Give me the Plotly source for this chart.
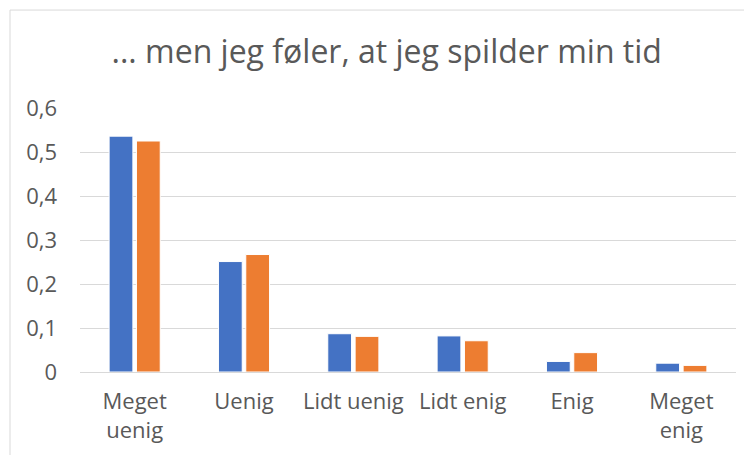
import plotly.graph_objects as go

categories = ["Meget<br>uenig", "Uenig", "Lidt uenig", "Lidt enig", "Enig", "Meget<br>enig"]
series_1 = [0.536, 0.251, 0.087, 0.082, 0.024, 0.020]
series_2 = [0.525, 0.267, 0.081, 0.071, 0.044, 0.015]

font_family = "Open Sans, sans-serif"
text_color = "#595959"

fig = go.Figure()
fig.add_trace(go.Bar(x=categories, y=series_1, name="Serie 1",
                     marker=dict(color="#4472C4", line=dict(color="#ffffff", width=1))))
fig.add_trace(go.Bar(x=categories, y=series_2, name="Serie 2",
                     marker=dict(color="#ED7D31", line=dict(color="#ffffff", width=1))))

fig.update_layout(
    width=744,
    height=447,
    separators=", ",
    barmode="group",
    bargap=0.5,
    bargroupgap=0.13,
    showlegend=False,
    plot_bgcolor="white",
    paper_bgcolor="white",
    margin=dict(l=72, r=16, t=100, b=83, autoexpand=False),
    font=dict(family=font_family, color=text_color, size=22),
    title=dict(
        text="... men jeg føler, at jeg spilder min tid",
        x=0.509,
        xanchor="center",
        y=0.902,
        yanchor="middle",
        font=dict(size=32, color=text_color, family=font_family),
    ),
    xaxis=dict(
        showgrid=False,
        showline=True,
        linecolor="#d9d9d9",
        linewidth=1,
        ticks="",
        ticklabelstandoff=10,
        tickfont=dict(size=22, color=text_color),
    ),
    yaxis=dict(
        range=[0, 0.6],
        dtick=0.1,
        showgrid=True,
        gridcolor="#d9d9d9",
        gridwidth=1,
        zeroline=False,
        ticks="",
        ticklabelstandoff=22,
        tickfont=dict(size=22, color=text_color),
    ),
    shapes=[
        dict(type="rect", xref="paper", yref="paper",
             x0=-0.1067, x1=1.1, y0=-0.5, y1=1.371,
             line=dict(color="#d9d9d9", width=1), fillcolor="rgba(0,0,0,0)",
             layer="below"),
    ],
)

fig.write_html("out.html")
